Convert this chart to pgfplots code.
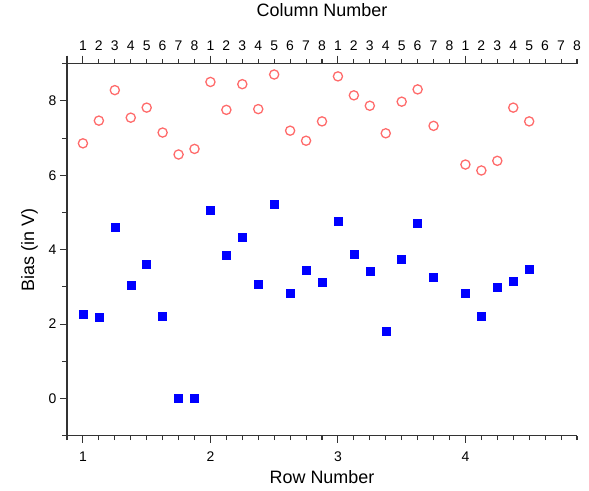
\documentclass[border=0pt]{standalone}
\usepackage{fontspec}
\setmainfont{Liberation Sans}
\usepackage{pgfplots}
\pgfplotsset{compat=1.18}
\definecolor{circred}{HTML}{FF6B6B}
\definecolor{sqblue}{HTML}{0000FF}
\definecolor{axgray}{HTML}{333333}

\begin{document}
\begin{tikzpicture}
\pgfplotsset{
  common/.style={
    scale only axis, width=510bp, height=372bp,
    xmin=0.875, xmax=4.875, ymin=-1, ymax=9,
    axis line style={axgray, line width=1.3pt},
    every tick/.style={axgray, line width=1.1pt},
    tick align=outside,
    tick label style={font=\fontsize{14}{14}\selectfont},
    /pgf/number format/assume math mode=true,
    label style={font=\fontsize{18}{18}\selectfont},
  }
}
\begin{axis}[common, name=ax,
  axis x line*=bottom, axis y line*=left,
  xtick={1,2,3,4},
  minor xtick={0.875,1,...,4.875},
  ytick={0,2,4,6,8},
  minor ytick={-1,1,3,5,7,9},
  major tick length=7bp, minor tick length=4.5bp,
  xticklabel style={yshift=-6bp},
  xlabel={Row Number}, ylabel={Bias (in V)},
  xlabel style={yshift=-2bp}, ylabel style={yshift=4bp},
  clip=false,
]
% red open circles
\addplot[only marks, mark=o, mark size=4.6bp, draw=circred, line width=1.3pt] coordinates {
  (1.000,6.86) (1.125,7.47) (1.250,8.29) (1.375,7.55) (1.500,7.82) (1.625,7.15) (1.750,6.56) (1.875,6.71)
  (2.000,8.51) (2.125,7.76) (2.250,8.45) (2.375,7.78) (2.500,8.71) (2.625,7.20) (2.750,6.93) (2.875,7.45)
  (3.000,8.66) (3.125,8.15) (3.250,7.87) (3.375,7.13) (3.500,7.98) (3.625,8.31) (3.750,7.33)
  (4.000,6.29) (4.125,6.13) (4.250,6.39) (4.375,7.82) (4.500,7.45)
};
% blue filled squares
\addplot[only marks, mark=square*, mark size=4bp, draw=sqblue, fill=sqblue] coordinates {
  (1.000,2.27) (1.125,2.18) (1.250,4.60) (1.375,3.05) (1.500,3.61) (1.625,2.21) (1.750,0.00) (1.875,0.00)
  (2.000,5.05) (2.125,3.84) (2.250,4.33) (2.375,3.08) (2.500,5.22) (2.625,2.83) (2.750,3.46) (2.875,3.14)
  (3.000,4.78) (3.125,3.88) (3.250,3.41) (3.375,1.80) (3.500,3.75) (3.625,4.71) (3.750,3.26)
  (4.000,2.84) (4.125,2.21) (4.250,2.98) (4.375,3.15) (4.500,3.48)
};
\end{axis}
\begin{axis}[common,
  axis x line*=top, hide y axis,
  xtick={1,1.125,...,4.875},
  xticklabels={1,2,3,4,5,6,7,8,1,2,3,4,5,6,7,8,1,2,3,4,5,6,7,8,1,2,3,4,5,6,7,8},
  xticklabel style={yshift=5bp},
  major tick length=4.5bp,
  extra x ticks={0.875,1,2,3,4},
  extra x tick labels={},
  extra x tick style={major tick length=8bp},
  xlabel={Column Number},
  xlabel style={yshift=5bp},
]
\addplot[draw=none] coordinates {(1,0)};
\end{axis}
\path (ax.south west) ++(-67bp,-55bp) coordinate (bbl);
\path (ax.north east) ++(12bp,62bp) coordinate (btr);
\path[use as bounding box] (bbl) rectangle (btr);
\end{tikzpicture}
\end{document}
